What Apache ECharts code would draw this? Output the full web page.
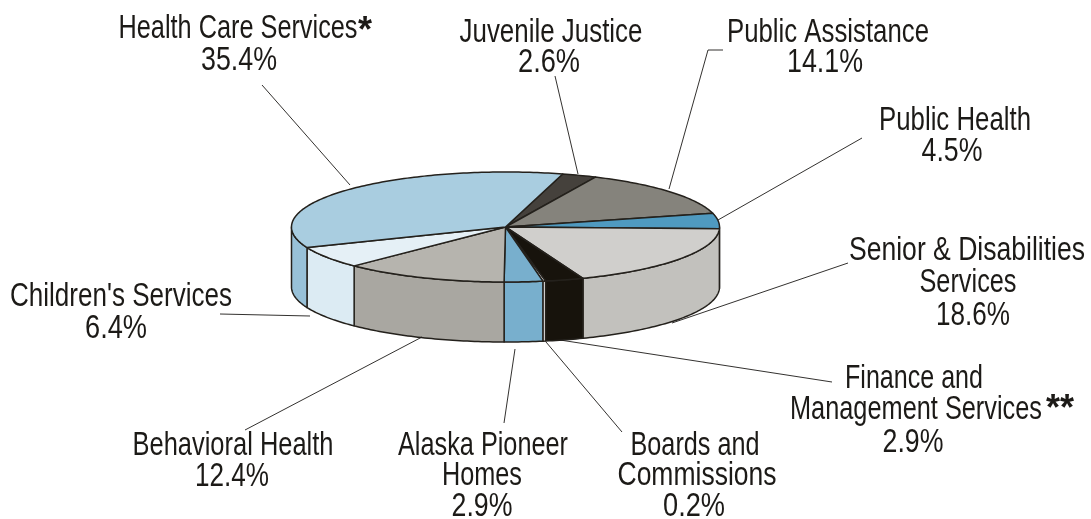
<!DOCTYPE html>
<html>
<head>
<meta charset="utf-8">
<style>html,body{margin:0;padding:0;background:#fff}#c{width:1091px;height:519px}</style>
<script src="https://cdn.jsdelivr.net/npm/echarts@6/dist/echarts.min.js"></script>
</head>
<body>
<div id="c"></div>
<script>
// Data, clockwise from the top of the pie
const categories = ['Juvenile Justice','Public Assistance','Public Health','Senior & Disabilities Services','Finance and Management Services','Boards and Commissions','Alaska Pioneer Homes','Behavioral Health',"Children's Services",'Health Care Services'];
const shares = [2.6,14.1,4.5,18.6,2.9,0.2,2.9,12.4,6.4,35.4];
const labelLines = [['Juvenile Justice'],['Public Assistance'],['Public Health'],['Senior & Disabilities','Services'],['Finance and','Management Services'],['Boards and','Commissions'],['Alaska Pioneer','Homes'],['Behavioral Health'],["Children's Services"],['Health Care Services']];
const labelMarks = ['','','','','**','','','','','*'];

// Styles
const topColors  = ['#45413c','#85837c','#4f9ac0','#d0cfcc','#17130c','#ffffff','#78afcd','#b6b4ae','#e5f0f6','#a9cde0'];
const sideColors = ['#45413c','#85837c','#4f9ac0','#c2c1bd','#17130c','#ffffff','#78afcd','#a9a7a1','#dcebf3','#98c1d8'];

// Layout
const pie = {cx:505.5, cy:227, rx:214, ry:55, depth:60, startAngle:74.5};
// [centre x, baseline y, drawn width] per text line, last one is the percentage
const labelPos = [
  [[551,42,183],[549,72,62]],
  [[828,42,202],[825,72,76]],
  [[955,130,152],[952,161,61]],
  [[967,260,236],[968,292,97],[973,325,74]],
  [[914,388,138],[916,419,252],[913,452,61]],
  [[695,455,129],[697,485,159],[694,516,62]],
  [[483,455,170],[482,485,80],[482,516,61]],
  [[233,455,201],[232,486,74]],
  [[121,306,222],[116,338,62]],
  [[238,38,239],[239,70,76]]
];
const markPos = {4:[1060,428],9:[365,50]};
const leaders = [
  [[555,76],[578,174]],
  [[723,50],[708,50],[669,189]],
  [[862,138],[718,220]],
  [[848,263],[672,323]],
  [[832,382],[560,340]],
  [[622,432],[546,342]],
  [[515,349],[504,423]],
  [[422,337],[245,430]],
  [[220,314],[310,316]],
  [[262,85],[350,185]]
];
const FONT = '"Liberation Sans",sans-serif';
const FONT_SIZE = 33, INK = '#1c1a17', EDGE = '#24211c';

const total = shares.reduce((a,b)=>a+b,0);
const starts = [];
shares.reduce((acc,v,i)=>{starts[i]=acc;return acc+v;},0);
const measure = document.createElement('canvas').getContext('2d');

function pt(deg, dy){
  const r = deg*Math.PI/180;
  return [pie.cx+pie.rx*Math.cos(r), pie.cy-pie.ry*Math.sin(r)+(dy||0)];
}
function arc(from,to,dy){
  const n = Math.max(1,Math.ceil(Math.abs(to-from)));
  const out=[];
  for(let k=0;k<=n;k++) out.push(pt(from+(to-from)*k/n,dy));
  return out;
}
function textEl(str,x,y,font,scale){
  return {type:'text',originX:x,originY:y,scaleX:scale,
    style:{text:str,x:x,y:y,font:font,fill:INK,textAlign:'center',textVerticalAlign:'bottom'}};
}
function renderItem(params,api){
  const i = params.dataIndex, v = api.value(0);
  const a0 = pie.startAngle-starts[i]/total*360;
  const a1 = a0-v/total*360;
  const children=[];
  [[0,-180],[-360,-540]].forEach(function(w){
    const s=Math.min(a0,w[0]), e=Math.max(a1,w[1]);
    if(s>e){
      children.push({type:'polygon',shape:{points:arc(s,e,0).concat(arc(e,s,pie.depth))},
        style:{fill:sideColors[i],stroke:EDGE,lineWidth:1.5,lineJoin:'round'}});
    }
  });
  children.push({type:'polygon',shape:{points:[[pie.cx,pie.cy]].concat(arc(a0,a1,0))},
    style:{fill:topColors[i],stroke:EDGE,lineWidth:1.5,lineJoin:'round'}});
  children.push({type:'polyline',shape:{points:leaders[i]},style:{fill:'none',stroke:INK,lineWidth:0.9}});
  const lines = labelLines[i].concat([v.toFixed(1)+'%']);
  const font = FONT_SIZE+'px '+FONT;
  lines.forEach(function(t,k){
    const p=labelPos[i][k];
    measure.font=font;
    children.push(textEl(t,p[0],p[1]+7,font,p[2]/measure.measureText(t).width));
  });
  if(labelMarks[i]){
    children.push(textEl(labelMarks[i],markPos[i][0],markPos[i][1],'bold 36px "Liberation Sans",sans-serif',1));
  }
  return {type:'group',children:children};
}
const chart = echarts.init(document.getElementById('c'),null,{renderer:'canvas'});
chart.setOption({
  animation:false,
  backgroundColor:'#ffffff',
  series:[{type:'custom',coordinateSystem:'none',silent:true,clip:false,
    renderItem:renderItem,
    encode:{value:0},
    data:shares.map(function(v,i){return {name:categories[i],value:[v]};})
  }]
});
</script>
</body>
</html>
